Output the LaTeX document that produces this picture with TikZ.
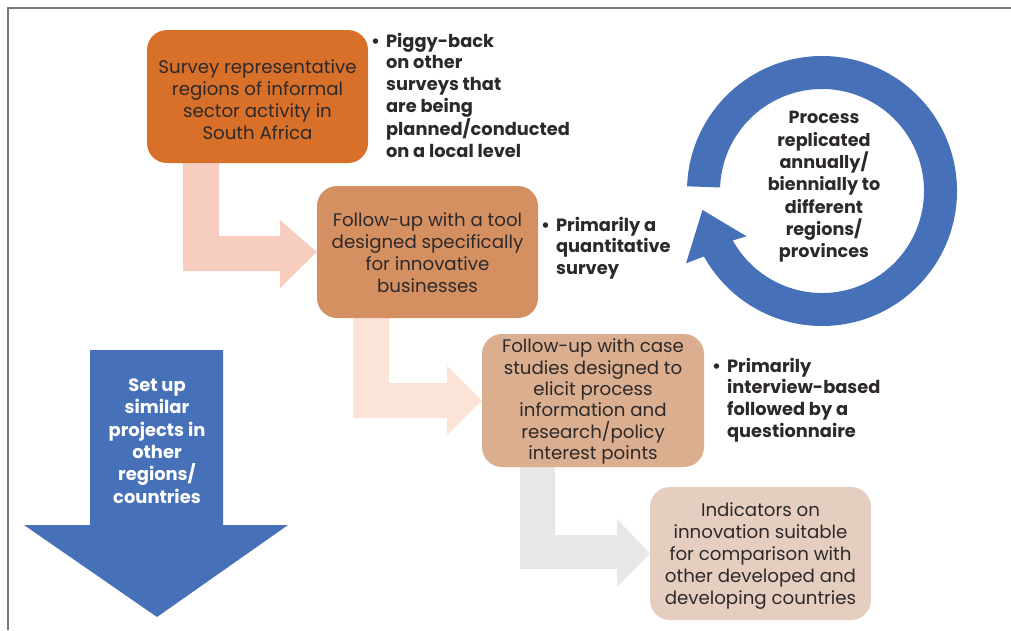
\documentclass[tikz,border=0pt]{standalone}
\usepackage{fontspec}
\setmainfont{Poppins}
\usetikzlibrary{calc}
\pgfdeclarelayer{bg}
\pgfsetlayers{bg,main}
\definecolor{frame}{RGB}{120,120,120}
\definecolor{txt}{RGB}{45,41,42}
\definecolor{boxA}{RGB}{216,112,41}
\definecolor{boxB}{RGB}{213,144,98}
\definecolor{boxC}{RGB}{218,174,143}
\definecolor{boxD}{RGB}{229,206,191}
\definecolor{arrA}{RGB}{247,205,191}
\definecolor{arrB}{RGB}{252,227,216}
\definecolor{arrC}{RGB}{231,231,232}
\definecolor{blueA}{RGB}{70,113,184}
\tikzset{
  stepbox/.style={rounded corners=20pt, inner sep=0pt, text=txt, align=center,
    font=\fontsize{18.2}{22}\selectfont},
  bultext/.style={inner sep=0pt, text=txt, font=\fontsize{17.8}{21.8}\selectfont\bfseries},
  bluetext/.style={inner sep=0pt, text=white, align=center, font=\fontsize{17.9}{22.4}\selectfont\bfseries},
  ringtext/.style={inner sep=0pt, text=txt, align=center, font=\fontsize{17.6}{22.3}\selectfont\bfseries},
}
\begin{document}
\begin{tikzpicture}[x=1pt,y=-1pt]
\useasboundingbox (0,0) rectangle (1011,630);
% frame
\draw[frame, line width=2pt] (8,630) -- (8,8) -- (1011,8);

% boxes
\node[stepbox, fill=boxA, minimum width=221pt, minimum height=133pt] (b1) at (257.5,96.5) {};
\node[stepbox, fill=boxB, minimum width=221pt, minimum height=132pt] (b2) at (427.5,252) {};
\node[stepbox, fill=boxC, minimum width=222pt, minimum height=133pt] (b3) at (593,400.5) {};
\node[stepbox, fill=boxD, minimum width=221pt, minimum height=133pt] (b4) at (760.5,553.5) {};
\node[stepbox] (t1) at ($(b1.center)+(0,3)$)
  {Survey representative\\regions of informal\\sector activity in\\South Africa};
\node[stepbox] (t2) at ($(b2.center)+(0,1)$)
  {Follow-up with a tool\\designed specifically\\for innovative\\businesses};
\node[stepbox, font=\fontsize{18.2}{21.3}\selectfont] (t3) at ($(b3.center)+(0,1)$)
  {Follow-up with case\\studies designed to\\elicit process\\information and\\research/policy\\interest points};
\node[stepbox] (t4) at ($(b4.center)+(0,3)$)
  {Indicators on\\innovation suitable\\for comparison with\\other developed and\\developing countries};

% bullet texts
\node[bultext, anchor=base west] (n1) at (371,47)
  {\begin{tabular}[t]{@{}l@{\hspace{6pt}}l@{}}\textbullet & Piggy-back\\ & on other\\ & surveys that\\ & are being\\ & planned/conducted\\ & on a local level\end{tabular}};
\node[bultext, anchor=base west] (n2) at (541,231)
  {\begin{tabular}[t]{@{}l@{\hspace{6pt}}l@{}}\textbullet & Primarily a\\ & quantitative\\ & survey\end{tabular}};
\node[bultext, anchor=base west] (n3) at (712,372)
  {\begin{tabular}[t]{@{}l@{\hspace{6pt}}l@{}}\textbullet & Primarily\\ & interview-based\\ & followed by a\\ & questionnaire\end{tabular}};

% L-shaped arrows
\begin{pgfonlayer}{bg}
\fill[arrA] (183,163) -- (219,163) -- (219,236) -- (280,236) -- (280,220) -- (b2.west) -- (280,288) -- (280,271) -- (183,271) -- cycle;
\fill[arrB] (353,318) -- (389,318) -- (389,383) -- (447,383) -- (447,366) -- (b3.west) -- (447,435) -- (447,418) -- (353,418) -- cycle;
\fill[arrC] (520,467) -- (555,467) -- (555,535) -- (617,535) -- (617,519) -- (b4.west) -- (617,587) -- (617,569) -- (520,569) -- cycle;
\end{pgfonlayer}

% big down arrow
\fill[blueA] (90,350) -- (223,350) -- (223,525) -- (288,525) -- (157,617) -- (24,525) -- (90,525) -- cycle;
\node[bluetext] (dn) at (157,441) {Set up\\similar\\projects in\\other\\regions/\\countries};

% circular arrow
\coordinate (rc) at (822,191);
\fill[blueA] ($(rc)+(182:135)$) arc[start angle=182, end angle=511, radius=135]
  -- ($(rc)+(152:154)$) -- ($(rc)+(171:121)$) -- ($(rc)+(149:88)$)
  -- ($(rc)+(151:102)$) arc[start angle=511, end angle=182, radius=102] -- cycle;
\node[ringtext] (rt) at (824,187) {Process\\replicated\\annually/\\biennially to\\different\\regions/\\provinces};
\end{tikzpicture}
\end{document}
